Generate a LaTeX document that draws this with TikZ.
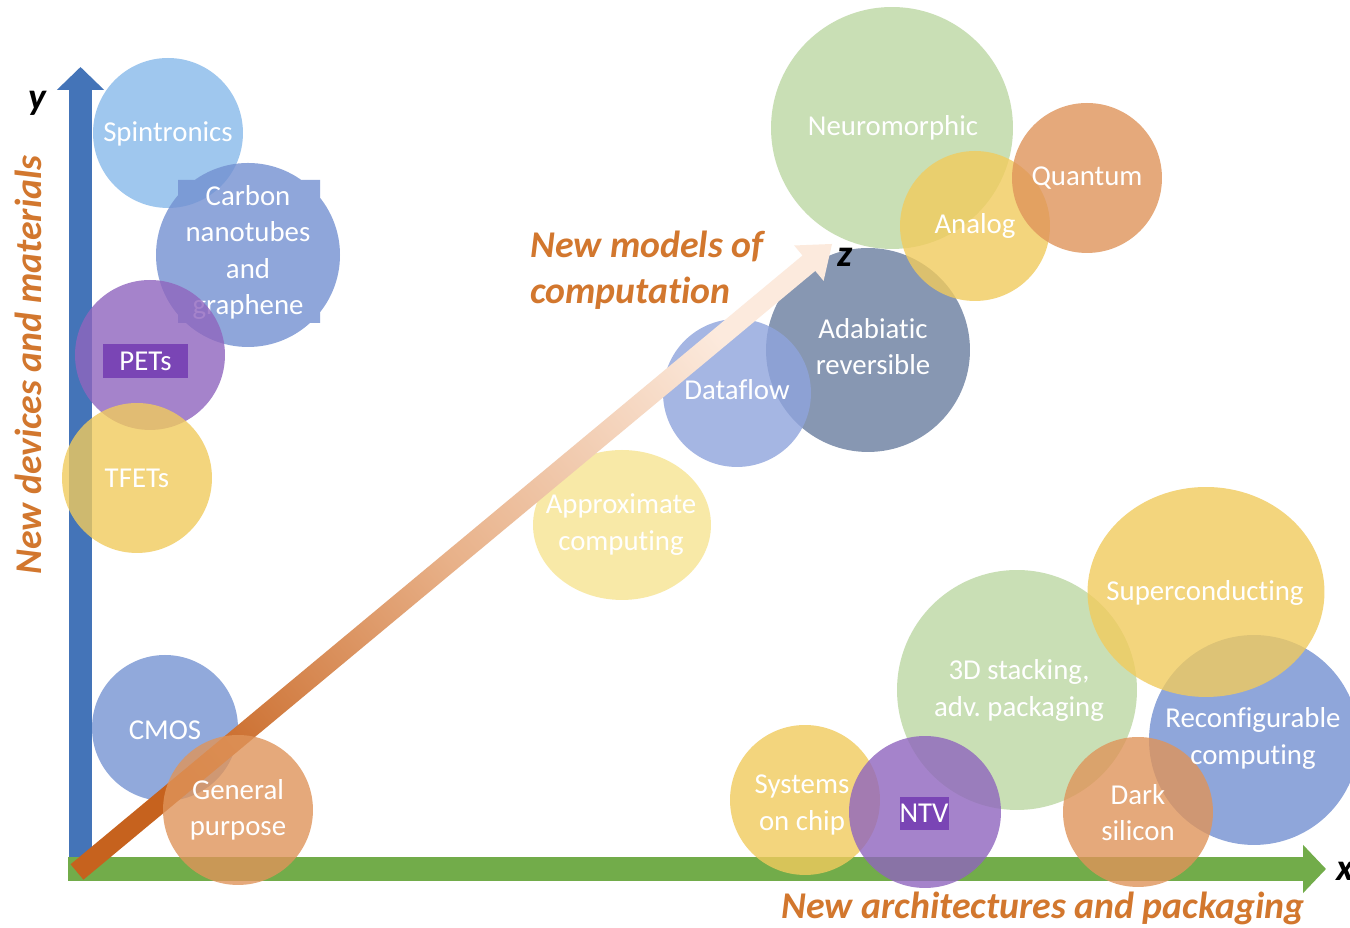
\documentclass[tikz,border=0pt]{standalone}
\usepackage{fontspec}
\setmainfont{Carlito}[Ligatures=NoCommon]
\usetikzlibrary{shapes.geometric,arrows.meta}

% bubble fills (used at 80% opacity)
\definecolor{cSpin}{HTML}{88B9EA}
\definecolor{cBlue}{HTML}{7390D1}
\definecolor{cCmos}{HTML}{7694D2}
\definecolor{cPurple}{HTML}{8F65BE}
\definecolor{cTag}{HTML}{7A45B5}
\definecolor{cYellow}{HTML}{F1CB5D}
\definecolor{cPale}{HTML}{F7E492}
\definecolor{cOrange}{HTML}{DF945A}
\definecolor{cGreen}{HTML}{BCD7A3}
\definecolor{cFlow}{HTML}{8FA4DD}
\definecolor{cSlate}{HTML}{697D9F}
% axes and axis titles
\definecolor{axisBlue}{HTML}{4474B8}
\definecolor{axisGreen}{HTML}{72AC4A}
\definecolor{zDark}{HTML}{C6621E}
\definecolor{zMid}{HTML}{E8B189}
\definecolor{zPale}{HTML}{FCEADD}
\definecolor{titleOrange}{HTML}{D2772E}

\begin{document}
\frenchspacing
\begin{tikzpicture}[x=0.02cm,y=0.02cm,
  bubble/.style={circle, fill opacity=0.8, draw=none, inner sep=0pt},
  oval/.style={ellipse, fill opacity=0.8, draw=none, inner sep=0pt},
  lab/.style={text=white, font=\fontsize{16.4}{20.6}\selectfont, align=center, inner sep=0pt},
  tag/.style={fill=cTag, text=white, font=\fontsize{16.4}{20.6}\selectfont, inner sep=0pt},
  title/.style={text=titleOrange, font=\fontsize{21.5}{26}\selectfont\bfseries\itshape, inner sep=0pt},
  axisname/.style={text=black, font=\fontsize{21.5}{26}\selectfont\bfseries\itshape, inner sep=0pt}]

\useasboundingbox (0,0) rectangle (1350,928);
\fill[white] (0,0) rectangle (1350,928);

% ---- axes ----
\coordinate (yfoot) at (80.5,47);
\coordinate (ytip) at (80.5,861);
\coordinate (xfoot) at (68,59);
\coordinate (xtip) at (1326,59);
\draw[line width=0.46cm, axisBlue, -{Triangle[length=0.46cm,width=0.92cm]}] (yfoot) -- (ytip);
\draw[line width=0.48cm, axisGreen, -{Triangle[length=0.46cm,width=0.94cm]}] (xfoot) -- (xtip);

% ---- devices and materials (left column) ----
\node[bubble, fill=cSpin, minimum size=3cm] (spin) at (168,795) {};
\fill[cBlue, fill opacity=0.8] (178,605) -- (320,605) -- (320,748) -- (178,748) -- cycle
      (248,673) circle[radius=92];
% this label sits under the PETs bubble
\node[lab] (carbonL) at (248,675.5) {Carbon\\nanotubes\\and\\graphene};
\node[bubble, fill=cPurple, minimum size=3cm] (pets) at (150,573) {};
\node[bubble, fill=cYellow, minimum size=3cm] (tfets) at (137,450) {};
\node[bubble, fill=cCmos, minimum size=2.92cm] (cmos) at (165,200) {};

% ---- models of computation ----
\node[oval, fill=cPale, minimum width=3.56cm, minimum height=3cm] (approx) at (622,403) {};
\node[bubble, fill=cSlate, minimum size=4.08cm] (adab) at (868,578) {};
\node[bubble, fill=cFlow, minimum size=2.96cm] (flow) at (737,535) {};
\node[bubble, fill=cGreen, minimum size=4.84cm] (neuro) at (892,800) {};
\node[bubble, fill=cYellow, minimum size=3cm] (analog) at (975,702) {};
\node[bubble, fill=cOrange, minimum size=3cm] (quantum) at (1087,750) {};

% ---- architectures and packaging ----
\node[bubble, fill=cYellow, minimum size=3cm] (soc) at (805,128) {};
\node[bubble, fill=cGreen, minimum size=4.8cm] (stack) at (1017,238) {};
\node[bubble, fill=cPurple, minimum size=3.04cm] (ntv) at (925,116) {};
\node[bubble, fill=cBlue, minimum size=4.2cm] (reconf) at (1254,188) {};
\node[bubble, fill=cOrange, minimum size=3cm] (dark) at (1138,116) {};
\node[oval, fill=cYellow, minimum width=4.74cm, minimum height=4.2cm] (super) at (1206,336) {};

% ---- z axis: shaded diagonal arrow ----
\coordinate (zfoot) at (77,56);
\coordinate (ztip) at (832,684);
\shade[bottom color=zDark, top color=zPale, middle color=zMid, shading angle=-50.25]
  (83.4,48.3) -- (815.3,657.1) -- (823.6,647.1) -- (ztip) -- (794.2,682.5)
  -- (802.5,672.5) -- (70.6,63.7) -- cycle;

\node[bubble, fill=cOrange, minimum size=3cm] (gp) at (238,118) {};

% ---- labels ----
\node[lab] (spinL) at (168,794) {Spintronics};
\node[tag, minimum width=1.7cm, minimum height=0.68cm] (petsL) at (145.5,567) {PETs};
\node[lab] (tfetsL) at (137,450) {TFETs};
\node[lab] (cmosL) at (165,198) {CMOS};
\node[lab] (gpL) at (238,118) {General\\purpose};
\node[lab] (approxL) at (621,403.5) {Approximate\\computing};
\node[lab] (flowL) at (737,538) {Dataflow};
\node[lab] (adabL) at (873,581) {Adabiatic\\reversible};
\node[lab] (neuroL) at (893,800) {Neuromorphic};
\node[lab] (analogL) at (975,702) {Analog};
\node[lab] (quantumL) at (1087,750) {Quantum};
\node[lab] (stackL) at (1019,237.5) {3D stacking,\\adv. packaging};
\node[lab] (superL) at (1205,335) {Superconducting};
\node[lab] (reconfL) at (1253,189.5) {Reconfigurable\\computing};
\node[lab] (socL) at (802,123) {Systems\\on chip};
\node[tag, minimum width=0.96cm, minimum height=0.66cm] (ntvL) at (924,114.5) {NTV};
\node[lab] (darkL) at (1138,115) {Dark\\silicon};

% ---- axis titles ----
\node[title, rotate=90] (ytitle) at (28,563) {New devices and materials};
\node[title, align=left, anchor=west] (ztitle) at (530,658) {New models of\\computation};
\node[title] (xtitle) at (1043,20) {New architectures and packaging};
\node[axisname] (yname) at (37,825) {y};
\node[axisname] (zname) at (845,671) {z};
\node[axisname, anchor=west] (xname) at (1336,57) {x};
\end{tikzpicture}
\end{document}
